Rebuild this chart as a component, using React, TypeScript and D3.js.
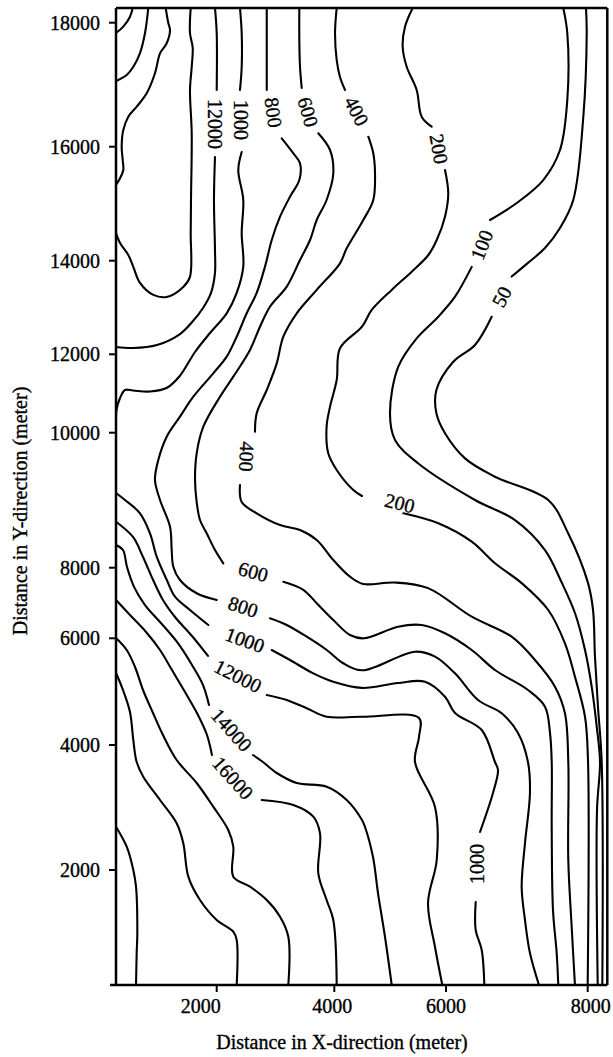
import React from "react";
import * as d3 from "d3";

// Axis calibration (the scanned axes are not uniform, so the scales are piecewise)
const xDomain = [300, 2000, 4000, 6000, 8000, 8280];
const xRange = [116, 216.7, 334.3, 446, 587.7, 607.3];
const yDomain = [140, 2000, 4000, 6000, 8000, 10000, 12000, 14000, 16000, 18000, 18240];
const yRange = [985, 870, 745, 638.3, 567.7, 432.7, 354.3, 260.7, 146.7, 22.7, 8];

const xTicks = [2000, 4000, 6000, 8000];
const xTickLabels = ["2000", "4000", "6000", "8000"];
const xTickShift = [-16, -2, 0, 3];
const yTicks = [2000, 4000, 6000, 8000, 10000, 12000, 14000, 16000, 18000];
const yTickLabels = ["2000", "4000", "6000", "8000", "10000", "12000", "14000", "16000", "18000"];

// Contour lines: each is a list of segments (gaps where labels sit), points [x m, y m]
const lineA = [[[582, 18240], [536, 18098], [423, 17936], [300, 17834]]];
const lineB = [[[845, 18240], [790, 17834], [705, 17511], [592, 17290], [481, 17157], [300, 17060]]];
const lineC = [[[1139, 18240], [1183, 17995], [1212, 17882], [1156, 17668], [1043, 17506], [958, 17184], [818, 16861], [649, 16645], [508, 16484], [423, 16269], [396, 16000], [413, 15767], [423, 15591], [368, 15446], [300, 15328]]];
const lineD = [[[1561, 18240], [1549, 17834], [1595, 17592], [1578, 17286], [1549, 16915], [1578, 16221], [1566, 15065], [1561, 14486], [1549, 13654], [1436, 13440], [1156, 13226], [930, 13269], [705, 13525], [592, 13868], [508, 14100], [368, 14311], [300, 14486]]];
const c12000a = [
  [[1971, 18240], [2000, 17834], [2000, 16915]],
  [[1971, 15819], [1954, 15065], [1971, 14188], [1971, 13739], [1904, 13312], [1769, 12989], [1600, 12711], [1380, 12433], [992, 12199], [587, 12135], [300, 12156]],
];
const c1000a = [
  [[2396, 18240], [2425, 17834], [2425, 17286], [2396, 16915]],
  [[2425, 15907], [2367, 15591], [2452, 15065], [2425, 14486], [2452, 13872], [2340, 13312], [2170, 12876], [1887, 12455], [1634, 12049], [1380, 11454], [1161, 11148], [874, 11051], [587, 11077], [452, 11089], [368, 10885], [308, 10579], [300, 10332]],
];
const c800 = [
  [[2851, 18240], [2851, 16915]],
  [[3106, 16135], [3303, 15884], [3417, 15708], [3405, 15415], [3247, 15123], [3077, 14772], [2936, 14363], [2821, 13872], [2680, 13312], [2510, 12876], [2340, 12376], [2170, 11939], [1942, 11515], [1605, 10918], [1380, 10408], [1156, 9941], [1014, 9596], [958, 9299], [1043, 9003], [1212, 8607], [1240, 8262], [1267, 8015], [1380, 7652], [1662, 7275], [2000, 7085]],
  [[2906, 6567], [3190, 6377], [3531, 6045], [3871, 5781], [4161, 5532], [4496, 5400], [5445, 5749], [5803, 5656], [6127, 5343], [6452, 4843], [6786, 4594], [7016, 4225], [7157, 3728], [7185, 3232], [7115, 2432], [7068, 1725], [7115, 1191], [7185, 657], [7312, 140]],
];
const c600 = [
  [[3405, 18240], [3405, 17721], [3417, 17286], [3446, 16947]],
  [[3728, 16216], [3927, 15942], [3983, 15533], [3869, 15065], [3701, 14714], [3587, 14363], [3417, 14012], [3191, 13446], [2906, 13017], [2736, 12590], [2566, 12092], [2282, 11429], [2056, 10918], [1774, 10153], [1662, 9695], [1634, 9299], [1662, 8973], [1718, 8707], [1831, 8509], [1971, 8262], [2112, 8065]],
  [[3133, 7603], [3473, 7373], [3701, 6992], [3983, 6518], [4281, 6093], [4530, 6000], [5140, 6329], [5565, 6377], [5982, 6142], [6363, 5781], [6691, 5406], [7157, 5031], [7397, 4718], [7468, 4225], [7492, 3728], [7492, 2688], [7510, 1353], [7562, 657], [7585, 140]],
];
const c400 = [
  [[4043, 18240], [4013, 17834], [4043, 17398], [4102, 17124], [4192, 16915]],
  [[4609, 16161], [4698, 15884], [4729, 15533], [4698, 15065], [4519, 14714], [4222, 14217], [4102, 13944], [3701, 13376], [3361, 12876], [3133, 12376], [3021, 11770], [2851, 11089], [2680, 10495], [2651, 10026]],
  [[2396, 9225], [2425, 8973], [2680, 8806], [3077, 8632], [3417, 8558], [3701, 8410], [3983, 8114], [4281, 7745], [4514, 7540], [5087, 7580], [5678, 7421], [6363, 6612], [6927, 6045], [7256, 5593], [7538, 5093], [7679, 4594], [7726, 3728], [7726, 2160], [7774, 1078], [7820, 140]],
];
const c200 = [
  [[5403, 18240], [5266, 17936], [5224, 17613], [5296, 17290], [5475, 16915], [5564, 16484], [5743, 16323]],
  [[5982, 15591], [6032, 15182], [5982, 14772], [5834, 14363], [5684, 14100], [5386, 13765], [5028, 13376], [4670, 12947], [4496, 12590], [4102, 12128], [4043, 11344], [3927, 10663], [3869, 10153], [3897, 9695], [4043, 9448], [4340, 9151], [4496, 9062]],
  [[5236, 8806], [5862, 8658], [6363, 8385], [6691, 8065], [7068, 7563], [7443, 6802], [7679, 5906], [7820, 5281], [7962, 4530], [8004, 3760], [8000, 140]],
];
const c100 = [
  [[7655, 18240], [7712, 17834], [7712, 16753], [7609, 15942], [7373, 15415], [6998, 15012], [6621, 14714]],
  [[6363, 13868], [6127, 13231], [5862, 12803], [5475, 12342], [5146, 11684], [4997, 10503], [5087, 9892], [5499, 9547], [6409, 9003], [6974, 8706], [7397, 8262], [7633, 7580], [7820, 6717], [7962, 5781], [8057, 5094], [8129, 4343], [8176, 3728], [8133, 2960], [8143, 140]],
];
const c50 = [
  [[7976, 18240], [7986, 17834], [7938, 16479], [7796, 15065], [7609, 14574], [7397, 14223], [7157, 13953], [6927, 13661]],
  [[6645, 12803], [6409, 12199], [6103, 11811], [5828, 11089], [5828, 10495], [5982, 9991], [6268, 9620], [6691, 9348], [7443, 9003], [7722, 8514], [8004, 7571], [8076, 6802], [8104, 5650], [8147, 4712], [8200, 3728], [8209, 140]],
];
const c1000b = [
  [[300, 9107], [452, 9003], [705, 8806], [874, 8509], [987, 8163], [1156, 7657], [1296, 7179], [1549, 6802], [1858, 6377]],
  [[2936, 5781], [3247, 5593], [3643, 5343], [3983, 5186], [4496, 5070], [5140, 5162], [5624, 5186], [5982, 4905], [6127, 4600], [6504, 4281], [6691, 3728], [6734, 3600], [6663, 3232], [6480, 2608]],
  [[6419, 1482], [6419, 1029], [6504, 706], [6541, 140]],
];
const c12000b = [
  [[300, 8681], [587, 8455], [756, 8158], [925, 7657], [1093, 7085], [1296, 6603], [1583, 6065], [1853, 5669]],
  [[2851, 4937], [3191, 4843], [3531, 4688], [3871, 4530], [4496, 4530], [5517, 4506], [5517, 4156], [5445, 3728], [5803, 3008], [5834, 2160], [5678, 1466], [5803, 754], [5934, 140]],
];
const c14000 = [
  [[300, 8336], [418, 8262], [486, 8010], [604, 7458], [790, 6943], [1043, 6462], [1330, 5931], [1583, 5500], [1769, 5124], [1870, 4750]],
  [[2617, 3840], [2787, 3728], [3021, 3552], [3361, 3392], [3871, 3333], [4222, 3120], [4496, 2800], [4550, 2688], [4693, 2208], [4782, 1628], [4908, 916], [5028, 140]],
];
const c16000 = [
  [[300, 7085], [536, 6660], [807, 6178], [1043, 5781], [1245, 5406], [1465, 4993], [1684, 4562], [1836, 4187], [1920, 3840]],
  [[2765, 3120], [3303, 3040], [3643, 2853], [3757, 2587], [3728, 1947], [3869, 1514], [3983, 1191], [4043, 140]],
];
const line638 = [[[300, 6008], [481, 5781], [621, 5462], [756, 5031], [925, 4600], [1093, 4187], [1324, 3760], [1662, 3392], [1942, 3013], [2197, 2640], [2282, 2373], [2282, 1892], [2566, 1730], [2851, 1514], [3077, 1245], [3218, 921], [3218, 140]]];
const line673 = [[[300, 5349], [418, 5031], [536, 4619], [592, 4094], [649, 3728], [760, 3493], [1043, 3120], [1324, 2747], [1436, 2427], [1521, 1892], [1718, 1514], [2000, 1191], [2282, 1002], [2340, 868], [2340, 140]]];
const line827 = [[[300, 2693], [481, 2373], [592, 2000], [638, 1730], [660, 981], [649, 657], [638, 140]]];

const contours = [lineA, lineB, lineC, lineD, c12000a, c1000a, c800, c600, c400, c200, c100, c50, c1000b, c12000b, c14000, c16000, line638, line673, line827];

// Contour labels: text, position (m), rotation (deg)
const labelTexts = ["12000", "1000", "800", "600", "400", "200", "100", "50", "400", "200", "600", "800", "1000", "12000", "14000", "16000", "1000"];
const labelX = [1971, 2410, 2966, 3553, 4400, 5875, 6504, 6786, 2510, 5172, 2622, 2452, 2481, 2362, 2255, 2277, 6444];
const labelY = [16366, 16430, 16552, 16560, 16576, 15960, 14276, 13231, 9645, 8958, 7887, 6895, 5968, 5293, 4281, 3472, 2096];
const labelRot = [90, 90, 82, 74, 62, 80, -69, -62, 93, 14, 15, 18, 20, 27, 48, 48, -90];

const FONT = "'Liberation Serif', 'Times New Roman', Times, serif";

export default function App() {
  const x = d3.scaleLinear().domain(xDomain).range(xRange);
  const y = d3.scaleLinear().domain(yDomain).range(yRange);
  const line = d3
    .line<number[]>()
    .x((d) => x(d[0]))
    .y((d) => y(d[1]))
    .curve(d3.curveCatmullRom.alpha(0.5));

  const x0 = x(xDomain[0]);
  const x1 = x(xDomain[xDomain.length - 1]);
  const y0 = y(yDomain[0]);
  const y1 = y(yDomain[yDomain.length - 1]);

  const textStroke = { stroke: "#000", strokeWidth: 0.35 };

  return (
    <svg
      width={613}
      height={1057}
      style={{ position: "absolute", left: 0, top: 0, background: "#fff" }}
      fontFamily={FONT}
    >
      <defs>
        <clipPath id="plotclip">
          <rect x={x0} y={y1} width={x1 - x0} height={y0 - y1} />
        </clipPath>
      </defs>
      <g clipPath="url(#plotclip)" fill="none" stroke="#000" strokeWidth={2.1} strokeLinejoin="round" strokeLinecap="round">
        {contours.flatMap((c, i) =>
          c.map((seg, j) => <path key={`c${i}-${j}`} d={line(seg as number[][]) || ""} />)
        )}
      </g>
      <g fontSize={20} fill="#000" textAnchor="middle" {...textStroke}>
        {labelTexts.map((t, i) => (
          <text
            key={`l${i}`}
            transform={`translate(${x(labelX[i])},${y(labelY[i])}) rotate(${labelRot[i]})`}
            dominantBaseline="central"
          >
            {t}
          </text>
        ))}
      </g>
      {/* frame */}
      <g stroke="#000" strokeWidth={2.5} fill="none">
        <line x1={x0} x2={x0} y1={y1} y2={y0} />
        <line x1={x0} x2={x1} y1={y1} y2={y1} />
        <line x1={x1} x2={x1} y1={y1} y2={y0} />
        <line x1={x0 - 6} x2={x1} y1={y0} y2={y0} />
      </g>
      {/* y axis */}
      <g>
        {yTicks.map((t, i) => (
          <g key={`yt${i}`}>
            <line x1={x0 - 7} x2={x0} y1={y(t)} y2={y(t)} stroke="#000" strokeWidth={2} />
            <text x={x0 - 16} y={y(t) + 7} textAnchor="end" fontSize={20} {...textStroke}>
              {yTickLabels[i]}
            </text>
          </g>
        ))}
      </g>
      {/* x axis */}
      <g>
        {xTicks.map((t, i) => (
          <g key={`xt${i}`}>
            <line x1={x(t)} x2={x(t)} y1={y0} y2={y0 + 7} stroke="#000" strokeWidth={2} />
            <text x={x(t) + xTickShift[i]} y={y0 + 28} textAnchor="middle" fontSize={20} {...textStroke}>
              {xTickLabels[i]}
            </text>
          </g>
        ))}
      </g>
      <text x={342} y={1049} textAnchor="middle" fontSize={20} {...textStroke}>
        Distance in X-direction (meter)
      </text>
      <text transform="translate(27,511) rotate(-90)" textAnchor="middle" fontSize={20} {...textStroke}>
        Distance in Y-direction (meter)
      </text>
    </svg>
  );
}
